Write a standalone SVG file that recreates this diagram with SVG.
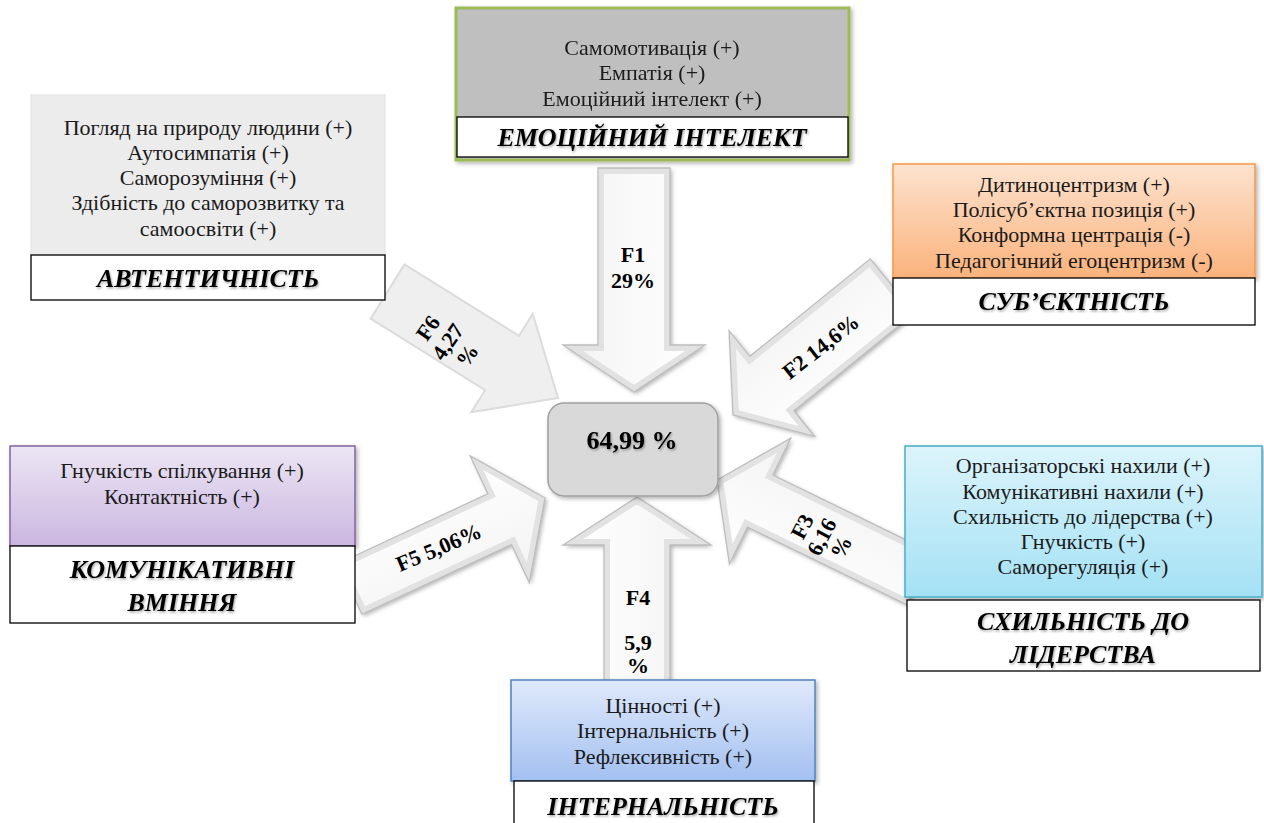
<svg xmlns="http://www.w3.org/2000/svg" width="1264" height="823" viewBox="0 0 1264 823">
<style>
.t{font-family:"Liberation Serif","Times New Roman","DejaVu Serif",serif;font-size:22px;fill:#1a1a1a;text-anchor:middle}
.h{font-family:"Liberation Serif","Times New Roman","DejaVu Serif",serif;font-size:26px;font-weight:bold;font-style:italic;fill:#000;text-anchor:middle}
.a{font-family:"Liberation Serif","Times New Roman","DejaVu Serif",serif;font-size:22px;font-weight:bold;fill:#000;text-anchor:middle}
.lab{fill:#fff;stroke:#000;stroke-width:1.3}
.fill{fill:url(#ag)}
.bev{fill:none;stroke:#e2e2e2;stroke-width:12}
.edge{fill:none;stroke:#bdbdbd;stroke-width:1.3;stroke-linejoin:miter}
</style>
<defs>
<filter id="sh" x="-10%" y="-10%" width="125%" height="130%"><feDropShadow dx="2" dy="2" stdDeviation="2" flood-color="#000" flood-opacity="0.3"/></filter>
<filter id="ts" x="-5%" y="-20%" width="115%" height="150%"><feDropShadow dx="1" dy="1.5" stdDeviation="1" flood-color="#000" flood-opacity="0.35"/></filter>
<linearGradient id="ag" x1="0" y1="0" x2="0" y2="1"><stop offset="0" stop-color="#ffffff"/><stop offset="1" stop-color="#f3f3f3"/></linearGradient>
<linearGradient id="gOr" x1="0" y1="0" x2="0" y2="1"><stop offset="0" stop-color="#fde3cf"/><stop offset="1" stop-color="#fab27c"/></linearGradient>
<linearGradient id="gPu" x1="0" y1="0" x2="0" y2="1"><stop offset="0" stop-color="#ece6f4"/><stop offset="1" stop-color="#cbb6e0"/></linearGradient>
<linearGradient id="gCy" x1="0" y1="0" x2="0" y2="1"><stop offset="0" stop-color="#dcf4fb"/><stop offset="1" stop-color="#a4e1f4"/></linearGradient>
<linearGradient id="gBl" x1="0" y1="0" x2="0" y2="1"><stop offset="0" stop-color="#dfe9fb"/><stop offset="1" stop-color="#a3c0f0"/></linearGradient>
<polygon id="p1" points="-224,-36 -47,-36 -47,-71 0,0 -47,71 -47,36 -224,36" transform="translate(634,392) rotate(90)"/>
<polygon id="p2" points="-205,-35 -50,-35 -50,-68 0,0 -50,68 -50,35 -205,35" transform="translate(733,415) rotate(141)"/>
<polygon id="p3" points="-225,-29 -48,-29 -48,-70 0,0 -48,70 -48,29 -225,29" transform="translate(717,480) rotate(206)"/>
<polygon id="p4" points="-200,-33 -48,-33 -48,-74 0,0 -48,74 -48,33 -200,33" transform="translate(637,497) rotate(-90)"/>
<polygon id="p5" points="-215,-28 -50,-28 -50,-70 0,0 -50,70 -50,28 -215,28" transform="translate(545,498) rotate(-25)"/>
<clipPath id="c1"><use href="#p1"/></clipPath>
<clipPath id="c2"><use href="#p2"/></clipPath>
<clipPath id="c3"><use href="#p3"/></clipPath>
<clipPath id="c4"><use href="#p4"/></clipPath>
<clipPath id="c5"><use href="#p5"/></clipPath>
</defs>
<rect width="1264" height="823" fill="#fff"/>

<g id="connectors">
  <g id="f6">
    <polygon points="-201,-32 -66,-32 -66,-58 0,0 -66,58 -66,32 -201,32" transform="translate(558,398) rotate(32)" fill="#efefef" stroke="#dcdcdc" stroke-width="2"/>
    <text class="a" transform="translate(448,342) rotate(-55)"><tspan x="0" y="-17">F6</tspan><tspan x="0" y="7">4,27</tspan><tspan x="0" y="31">%</tspan></text>
  </g>
  <g id="f1">
    <g filter="url(#sh)"><use href="#p1" class="fill"/></g>
    <use href="#p1" class="bev" clip-path="url(#c1)"/>
    <use href="#p1" class="edge"/>
    <text class="a" x="633" y="262">F1</text>
    <text class="a" x="633" y="288">29%</text>
  </g>
  <g id="f2">
    <g filter="url(#sh)"><use href="#p2" class="fill"/></g>
    <use href="#p2" class="bev" clip-path="url(#c2)"/>
    <use href="#p2" class="edge"/>
    <text class="a" transform="translate(821,347) rotate(-38)" y="7">F2 14,6%</text>
  </g>
  <g id="f3">
    <g filter="url(#sh)"><use href="#p3" class="fill"/></g>
    <use href="#p3" class="bev" clip-path="url(#c3)"/>
    <use href="#p3" class="edge"/>
    <text class="a" transform="translate(822,537) rotate(-62)"><tspan x="0" y="-15">F3</tspan><tspan x="0" y="7">6,16</tspan><tspan x="0" y="29">%</tspan></text>
  </g>
  <g id="f4">
    <g filter="url(#sh)"><use href="#p4" class="fill"/></g>
    <use href="#p4" class="bev" clip-path="url(#c4)"/>
    <use href="#p4" class="edge"/>
    <text class="a" x="638" y="605">F4</text>
    <text class="a" x="638" y="650">5,9</text>
    <text class="a" x="638" y="673">%</text>
  </g>
  <g id="f5">
    <g filter="url(#sh)"><use href="#p5" class="fill"/></g>
    <use href="#p5" class="bev" clip-path="url(#c5)"/>
    <use href="#p5" class="edge"/>
    <text class="a" transform="translate(439,548) rotate(-23)" y="7">F5 5,06%</text>
  </g>
</g>

<g id="emotional" filter="url(#sh)">
  <rect x="456" y="8" width="393" height="152" fill="#bfbfbf" stroke="#9bbb59" stroke-width="3"/>
  <rect class="lab" x="457" y="117" width="391" height="40"/>
  <text class="t" x="652" y="55">Самомотивація (+)</text>
  <text class="t" x="652" y="80">Емпатія (+)</text>
  <text class="t" x="652" y="106">Емоційний інтелект (+)</text>
  <text class="h" x="652" y="146" filter="url(#ts)">ЕМОЦІЙНИЙ ІНТЕЛЕКТ</text>
</g>

<g id="authenticity">
  <rect x="31" y="95" width="354" height="160" fill="#ececec" stroke="#e2e2e2" stroke-width="1"/>
  <rect class="lab" x="31" y="255" width="354" height="45"/>
  <text class="t" x="208" y="135">Погляд на природу людини (+)</text>
  <text class="t" x="208" y="160">Аутосимпатія (+)</text>
  <text class="t" x="208" y="185">Саморозуміння (+)</text>
  <text class="t" x="208" y="210">Здібність до саморозвитку та</text>
  <text class="t" x="208" y="236">самоосвіти (+)</text>
  <text class="h" x="208" y="287" filter="url(#ts)">АВТЕНТИЧНІСТЬ</text>
</g>

<g id="subjectivity">
  <rect x="893" y="164" width="362" height="114" fill="url(#gOr)" stroke="#f79646" stroke-width="1.5" filter="url(#sh)"/>
  <rect class="lab" x="893" y="278" width="362" height="47"/>
  <text class="t" x="1074" y="192">Дитиноцентризм (+)</text>
  <text class="t" x="1074" y="217">Полісуб’єктна позиція (+)</text>
  <text class="t" x="1074" y="242">Конформна центрація (-)</text>
  <text class="t" x="1074" y="268">Педагогічний егоцентризм (-)</text>
  <text class="h" x="1074" y="310" filter="url(#ts)">СУБ’ЄКТНІСТЬ</text>
</g>

<g id="communication">
  <rect x="10" y="446" width="345" height="100" fill="url(#gPu)" stroke="#8064a2" stroke-width="1.5" filter="url(#sh)"/>
  <rect class="lab" x="10" y="546" width="345" height="77"/>
  <text class="t" x="182" y="478">Гнучкість спілкування (+)</text>
  <text class="t" x="182" y="504">Контактність (+)</text>
  <text class="h" x="182" y="578" filter="url(#ts)">КОМУНІКАТИВНІ</text>
  <text class="h" x="182" y="611" filter="url(#ts)">ВМІННЯ</text>
</g>

<g id="leadership">
  <rect x="905" y="446" width="357" height="151" fill="url(#gCy)" stroke="#4bacc6" stroke-width="1.5" filter="url(#sh)"/>
  <rect class="lab" x="907" y="600" width="353" height="71"/>
  <text class="t" x="1083" y="473">Організаторські нахили (+)</text>
  <text class="t" x="1083" y="499">Комунікативні нахили (+)</text>
  <text class="t" x="1083" y="524">Схильність до лідерства (+)</text>
  <text class="t" x="1083" y="549">Гнучкість (+)</text>
  <text class="t" x="1083" y="574">Саморегуляція (+)</text>
  <text class="h" x="1083" y="630" filter="url(#ts)">СХИЛЬНІСТЬ ДО</text>
  <text class="h" x="1083" y="663" filter="url(#ts)">ЛІДЕРСТВА</text>
</g>

<g id="internality">
  <rect x="511" y="680" width="304" height="101" fill="url(#gBl)" stroke="#4f81bd" stroke-width="1.5" filter="url(#sh)"/>
  <rect class="lab" x="514" y="781" width="300" height="50"/>
  <text class="t" x="663" y="713">Цінності (+)</text>
  <text class="t" x="663" y="738">Інтернальність (+)</text>
  <text class="t" x="663" y="764">Рефлексивність (+)</text>
  <text class="h" x="663" y="815" filter="url(#ts)">ІНТЕРНАЛЬНІСТЬ</text>
</g>

<g id="center">
  <rect x="548" y="403" width="170" height="93" rx="16" fill="#d9d9d9" stroke="#a0a0a0" stroke-width="1.5" filter="url(#sh)"/>
  <text class="a" x="632" y="449" style="font-size:26px" filter="url(#ts)">64,99 %</text>
</g>
</svg>
